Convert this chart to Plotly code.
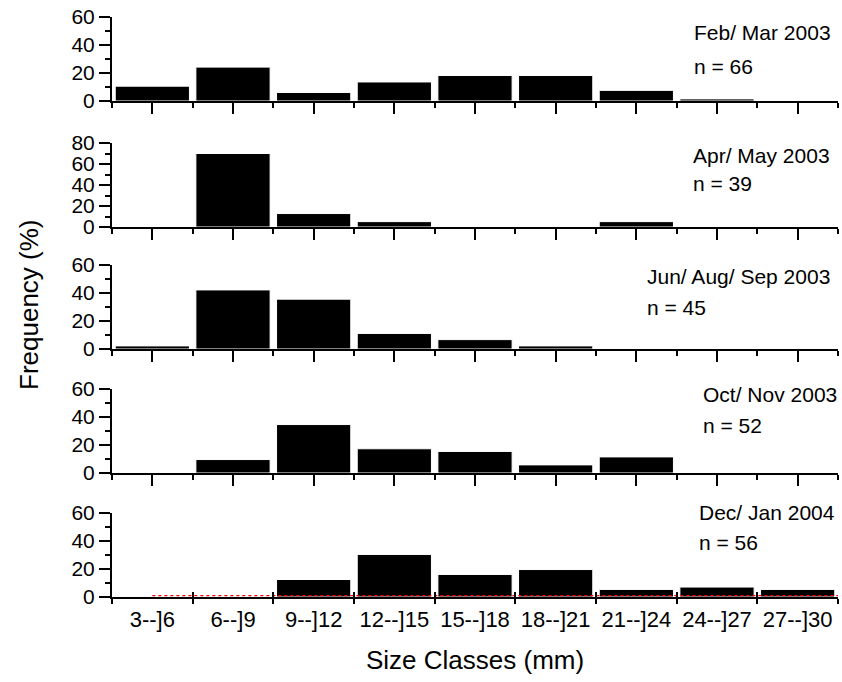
import plotly.graph_objects as go

# ---------------- data ----------------
categories = ["3--]6", "6--]9", "9--]12", "12--]15", "15--]18",
              "18--]21", "21--]24", "24--]27", "27--]30"]
periods = ["Feb/ Mar 2003", "Apr/ May 2003", "Jun/ Aug/ Sep 2003",
           "Oct/ Nov 2003", "Dec/ Jan 2004"]
sample_sizes = [66, 39, 45, 52, 56]

feb_mar = [10.6, 24.2, 6.1, 13.6, 18.2, 18.2, 7.6, 1.5, 0]
apr_may = [0, 70.0, 12.8, 5.1, 0, 0, 5.1, 0, 0]
jun_sep = [2.2, 42.2, 35.6, 11.1, 6.7, 2.2, 0, 0, 0]
oct_nov = [0, 9.6, 34.6, 17.3, 15.4, 5.8, 11.5, 0, 0]
dec_jan = [0, 0, 12.5, 30.4, 16.1, 19.6, 5.4, 7.1, 5.4]
series = [feb_mar, apr_may, jun_sep, oct_nov, dec_jan]

y_max = [60, 80, 60, 60, 60]
y_ticks = [[0, 20, 40, 60], [0, 20, 40, 60, 80], [0, 20, 40, 60],
           [0, 20, 40, 60], [0, 20, 40, 60]]

# ---------------- layout geometry (page pixels) ----------------
W, H = 842, 682
plot_left, plot_right = 112, 838
plot_top, plot_bottom = 17, 597
L = plot_left
R = W - plot_right
T = plot_top
B = H - plot_bottom
plot_h = plot_bottom - plot_top
plot_w = plot_right - plot_left
panel_tops = [17, 143, 265, 389, 513]
panel_h = 84
label_px = [(692, 32, 66), (691, 155, 184), (645, 276, 307),
            (701, 394, 425), (697, 512, 542)]

def py(p):
    return 1 - (p - plot_top) / plot_h

def px(p):
    return (p - plot_left) / plot_w

def clamp(v):
    return min(1.0, max(0.0, v))

FONT = "Liberation Sans, Arial, sans-serif"
idx = list(range(len(categories)))
xr = [-0.5, len(categories) - 0.5]

fig = go.Figure()
layout = dict(
    width=W, height=H,
    margin=dict(l=L, r=R, t=T, b=B),
    paper_bgcolor="white", plot_bgcolor="white",
    showlegend=False, bargap=0.08,
    font=dict(family=FONT, color="black"),
)

annotations = []
for i, vals in enumerate(series):
    n = i + 1
    xa = "x" if n == 1 else f"x{n}"
    ya = "y" if n == 1 else f"y{n}"
    fig.add_trace(go.Bar(
        x=idx, y=vals, xaxis=xa, yaxis=ya,
        marker=dict(color="black", line=dict(color="white", width=1)),
    ))
    top = panel_tops[i]
    dom = [clamp(py(top + panel_h)), clamp(py(top))]
    last = (n == 5)
    layout[f"xaxis{n}" if n > 1 else "xaxis"] = dict(
        domain=[0, 1], anchor=ya, range=xr,
        showline=True, linewidth=2, linecolor="black",
        showgrid=False, zeroline=False,
        tickvals=idx, ticktext=categories,
        showticklabels=last,
        ticks="outside", ticklen=(2 if last else 11), tickwidth=2,
        tickcolor=("rgba(0,0,0,0)" if last else "black"),
        tickfont=dict(size=22, family=FONT),
        minor=dict(tick0=0.5, dtick=1, ticks="outside", ticklen=5,
                   tickwidth=2, tickcolor="black", showgrid=False),
    )
    layout[f"yaxis{n}" if n > 1 else "yaxis"] = dict(
        domain=dom, anchor=xa, range=[0, y_max[i]],
        showline=True, linewidth=2, linecolor="black",
        showgrid=False, zeroline=False,
        tickvals=y_ticks[i],
        ticks="outside", ticklen=11, tickwidth=2, tickcolor="black",
        tickfont=dict(size=21, family=FONT),
        minor=dict(tick0=10, dtick=20, ticks="outside", ticklen=5,
                   tickwidth=2, tickcolor="black", showgrid=False),
    )
    lx, ly1, ly2 = label_px[i]
    annotations.append(dict(
        text=periods[i], xref="paper", yref="paper", x=px(lx), y=py(ly1),
        xanchor="left", yanchor="middle", showarrow=False,
        font=dict(size=21, family=FONT)))
    annotations.append(dict(
        text=f"n = {sample_sizes[i]}", xref="paper", yref="paper",
        x=px(lx), y=py(ly2), xanchor="left", yanchor="middle",
        showarrow=False, font=dict(size=21, family=FONT)))

# red dotted baseline in last panel
fig.add_trace(go.Scatter(
    x=[idx[0], xr[1]], y=[1, 1], xaxis="x5", yaxis="y5", mode="lines",
    line=dict(color="red", width=1.2, dash="dot"), hoverinfo="skip"))

# inner ticks at class boundaries on the bottom panel
fig.add_trace(go.Scatter(x=[], y=[], xaxis="x6", yaxis="y5"))
layout["xaxis6"] = dict(
    overlaying="x5", anchor="y5", range=xr,
    showline=False, showgrid=False, zeroline=False,
    tickvals=[k - 0.5 for k in range(len(categories) + 1)],
    showticklabels=False, ticks="inside", ticklen=5, tickwidth=2,
    tickcolor="black")

annotations.append(dict(
    text="Frequency (%)", xref="paper", yref="paper",
    x=px(29), y=py(305), xanchor="center", yanchor="middle",
    textangle=-90, showarrow=False, font=dict(size=26, family=FONT)))
annotations.append(dict(
    text="Size Classes (mm)", xref="paper", yref="paper",
    x=0.5, y=py(660), xanchor="center", yanchor="middle",
    showarrow=False, font=dict(size=26, family=FONT)))

layout["annotations"] = annotations
fig.update_layout(**layout)
fig.write_html(
    "out.html",
    config={"displayModeBar": False},
    post_script="document.body.style.margin='0';"
                "document.body.style.overflow='hidden';",
)
